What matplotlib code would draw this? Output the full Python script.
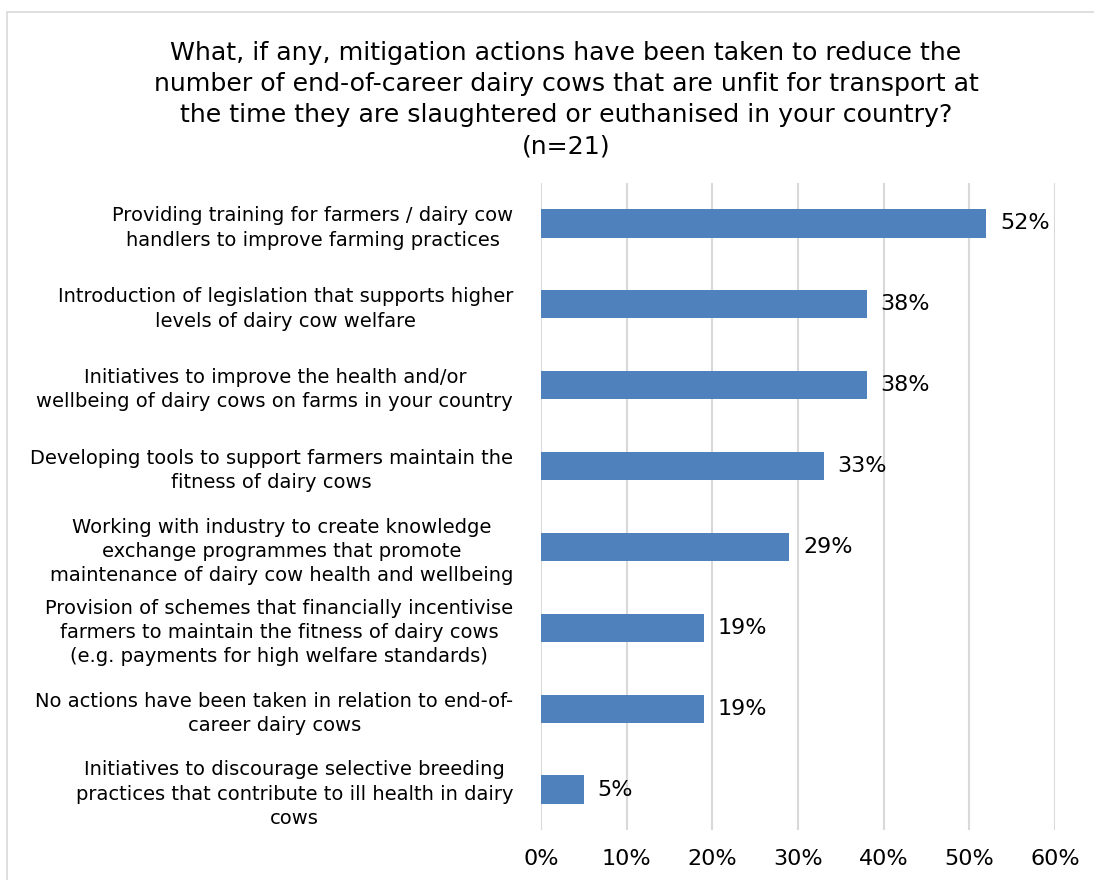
import matplotlib.pyplot as plt
from matplotlib.patches import Rectangle
from matplotlib.ticker import PercentFormatter

categories = [
    "Providing training for farmers / dairy cow\nhandlers to improve farming practices",
    "Introduction of legislation that supports higher\nlevels of dairy cow welfare",
    "Initiatives to improve the health and/or\nwellbeing of dairy cows on farms in your country",
    "Developing tools to support farmers maintain the\nfitness of dairy cows",
    "Working with industry to create knowledge\nexchange programmes that promote\nmaintenance of dairy cow health and wellbeing",
    "Provision of schemes that financially incentivise\nfarmers to maintain the fitness of dairy cows\n(e.g. payments for high welfare standards)",
    "No actions have been taken in relation to end-of-\ncareer dairy cows",
    "Initiatives to discourage selective breeding\npractices that contribute to ill health in dairy\ncows",
]
values = [52, 38, 38, 33, 29, 19, 19, 5]
title = ("What, if any, mitigation actions have been taken to reduce the\n"
         "number of end-of-career dairy cows that are unfit for transport at\n"
         "the time they are slaughtered or euthanised in your country?\n"
         "(n=21)")

W, H = 1094, 880
fig = plt.figure(figsize=(W / 100, H / 100), dpi=100)
fig.patches.append(Rectangle((7 / W, -0.1), 1.2, 1 - 12 / H + 0.1,
                             transform=fig.transFigure, fill=False,
                             edgecolor='#d9d9d9', linewidth=1.2))

ax = fig.add_axes([541 / W, 1 - 830 / H, (1055 - 541) / W, (830 - 183) / H])
y = list(range(len(categories)))
ax.barh(y, values, height=0.35, color='#4f81bd', zorder=3)
for yi, v in zip(y, values):
    ax.annotate(f"{v}%", (v, yi), xytext=(10, 0), textcoords='offset points',
                va='center', ha='left', fontsize=16)

ax.set_ylim(len(categories) - 0.5, -0.5)
ax.set_xlim(0, 60)
ax.set_xticks(range(0, 61, 10))
ax.xaxis.set_major_formatter(PercentFormatter(decimals=0))
ax.set_yticks(y)
ax.set_yticklabels(categories, fontsize=14, linespacing=1.35)
ax.tick_params(axis='y', length=0, pad=20)
ax.tick_params(axis='x', length=0, pad=14, labelsize=16)
ax.grid(axis='x', color='#d9d9d9', linewidth=1.5, zorder=0)
for s in ax.spines.values():
    s.set_visible(False)
for t in ax.get_yticklabels():
    t.set_horizontalalignment('right')
    t.set_multialignment('center')

fig.text(566 / W, 1 - 41 / H, title, ha='center', va='top', fontsize=18.2,
         linespacing=1.38)

fig.savefig('out.png', dpi=100)
